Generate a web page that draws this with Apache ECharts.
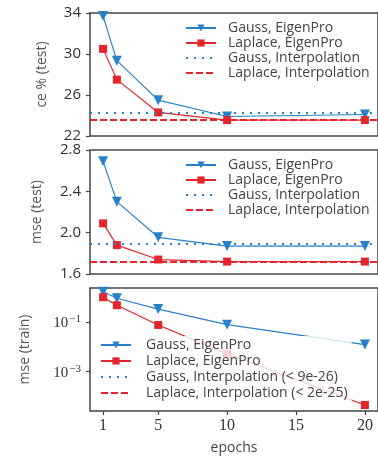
<!DOCTYPE html>
<html>
<head>
<meta charset="utf-8">
<script src="https://cdn.jsdelivr.net/npm/echarts@6/dist/echarts.min.js"></script>
<style>
  html, body { margin: 0; padding: 0; background: #fff; }
  #chart { width: 378px; height: 456px; }
</style>
</head>
<body>
<div id="chart"></div>
<script>
// epochs (shared x)
const epochs = [1, 2, 5, 10, 20]
const epochTicks = [1, 5, 10, 15, 20]

// ce % (test)
const ceGaussEP = [33.7, 29.35, 25.5, 23.9, 24.1]
const ceLaplaceEP = [30.5, 27.5, 24.3, 23.55, 23.55]
const ceGaussInterp = 24.3
const ceLaplaceInterp = 23.55
const ceTicks = [22, 26, 30, 34]

// mse (test)
const mseGaussEP = [2.69, 2.30, 1.955, 1.87, 1.87]
const mseLaplaceEP = [2.09, 1.88, 1.74, 1.72, 1.72]
const mseGaussInterp = 1.89
const mseLaplaceInterp = 1.72
const mseTicks = [1.6, 2.0, 2.4, 2.8]

// mse (train), log scale
const trainGaussEP = [1.78, 0.96, 0.35, 0.081, 0.0126]
const trainLaplaceEP = [1.06, 0.5, 0.079, 0.0053, 0.000044]
const trainTicks = [0.1, 0.001]
const trainTickExp = ['−1', '−3']

const BLUE = '#2a80c8'
const RED = '#e3262b'
const AXIS = '#444'
const SANS = 'Open Sans'
const SERIF = 'Liberation Serif'

const names = {
  gEP: 'Gauss, EigenPro',
  lEP: 'Laplace, EigenPro',
  gIn: 'Gauss, Interpolation',
  lIn: 'Laplace, Interpolation',
  gIn3: 'Gauss, Interpolation (< 9e-26)',
  lIn3: 'Laplace, Interpolation (< 2e-25)'
}

const chart = echarts.init(document.getElementById('chart'))

const pairs = arr => epochs.map((e, i) => [e, arr[i]])

const grids = [
  { left: 90, right: -8, top: 13, height: 123 },
  { left: 90, right: -8, top: 150, height: 124 },
  { left: 90, right: -8, top: 288, height: 124 }
].map(g => ({ ...g, show: true, borderColor: AXIS, borderWidth: 1.5, backgroundColor: 'transparent' }))

const xAxisBase = {
  type: 'value',
  min: 0.05,
  max: 20.95,
  axisLine: { show: false },
  splitLine: { show: false }
}

const xAxes = [
  { ...xAxisBase, gridIndex: 0, axisTick: { show: false }, axisLabel: { show: false } },
  { ...xAxisBase, gridIndex: 1, axisTick: { show: false }, axisLabel: { show: false } },
  {
    ...xAxisBase,
    gridIndex: 2,
    name: 'epochs',
    nameLocation: 'middle',
    nameGap: 30,
    nameTextStyle: { fontFamily: SANS, fontSize: 14, color: '#444' },
    axisTick: { show: true, length: 4, customValues: epochTicks, lineStyle: { color: AXIS, width: 1.2 } },
    axisLabel: { customValues: epochTicks, margin: 7, fontFamily: SERIF, fontSize: 16, color: '#333' }
  }
]

const yLinear = (idx, ticks, name, gap, fmt) => ({
  type: 'value',
  gridIndex: idx,
  min: ticks[0],
  max: ticks[ticks.length - 1],
  name: name,
  nameLocation: 'middle',
  nameRotate: 90,
  nameGap: gap,
  nameTextStyle: { fontFamily: SANS, fontSize: 14, color: '#555' },
  axisLine: { show: false },
  splitLine: { show: false },
  axisTick: { show: true, length: 4, customValues: ticks, lineStyle: { color: AXIS, width: 1.2 } },
  axisLabel: { customValues: ticks, margin: 9, fontFamily: SANS, fontSize: 15, color: '#333', formatter: fmt }
})

const yAxes = [
  yLinear(0, ceTicks, 'ce % (test)', 41, v => String(v)),
  yLinear(1, mseTicks, 'mse (test)', 46, v => v.toFixed(1)),
  {
    type: 'log',
    gridIndex: 2,
    logBase: 10,
    min: Math.pow(10, -4.6),
    max: Math.pow(10, 0.4),
    name: 'mse (train)',
    nameLocation: 'middle',
    nameRotate: 90,
    nameGap: 58,
    nameTextStyle: { fontFamily: SANS, fontSize: 14, color: '#555' },
    axisLine: { show: false },
    splitLine: { show: false },
    axisTick: { show: true, length: 4, customValues: trainTicks, lineStyle: { color: AXIS, width: 1.2 } },
    axisLabel: {
      customValues: trainTicks,
      margin: 9,
      fontFamily: SERIF,
      fontSize: 15,
      color: '#333',
      formatter: v => {
        const i = trainTicks.findIndex(t => Math.abs(Math.log10(t) - Math.log10(v)) < 0.01)
        return i >= 0 ? '{b|10}{s|' + trainTickExp[i] + '}' : ''
      },
      rich: {
        b: { fontFamily: SERIF, fontSize: 15, color: '#333', verticalAlign: 'bottom' },
        s: { fontFamily: SERIF, fontSize: 11, color: '#333', verticalAlign: 'top', padding: [0, 0, 6, 1] }
      }
    }
  }
]

const epSeries = (idx, name, data, color, symbol) => ({
  name: name,
  type: 'line',
  xAxisIndex: idx,
  yAxisIndex: idx,
  data: pairs(data),
  symbol: symbol,
  symbolRotate: symbol === 'triangle' ? 180 : 0,
  symbolSize: symbol === 'triangle' ? 10 : 8,
  showSymbol: true,
  lineStyle: { color: color, width: 1.2 },
  itemStyle: { color: color },
  z: 3
})

const interpSeries = (idx, name, value, color, dash) => ({
  name: name,
  type: 'line',
  xAxisIndex: idx,
  yAxisIndex: idx,
  data: [],
  symbol: 'none',
  lineStyle: { color: color, width: 2, type: dash },
  itemStyle: { color: 'rgba(0,0,0,0)' },
  markLine: value == null ? undefined : {
    silent: true,
    symbol: ['none', 'none'],
    label: { show: false },
    lineStyle: { color: color, width: 2, type: dash },
    data: [{ yAxis: value }]
  },
  z: 4
})

const DOT = [2, 6]
const DASH = [7, 3]

const series = [
  epSeries(0, names.gEP, ceGaussEP, BLUE, 'triangle'),
  epSeries(0, names.lEP, ceLaplaceEP, RED, 'rect'),
  interpSeries(0, names.gIn, ceGaussInterp, BLUE, DOT),
  interpSeries(0, names.lIn, ceLaplaceInterp, RED, DASH),
  epSeries(1, names.gEP, mseGaussEP, BLUE, 'triangle'),
  epSeries(1, names.lEP, mseLaplaceEP, RED, 'rect'),
  interpSeries(1, names.gIn, mseGaussInterp, BLUE, DOT),
  interpSeries(1, names.lIn, mseLaplaceInterp, RED, DASH),
  epSeries(2, names.gEP, trainGaussEP, BLUE, 'triangle'),
  epSeries(2, names.lEP, trainLaplaceEP, RED, 'rect'),
  interpSeries(2, names.gIn3, null, BLUE, DOT),
  interpSeries(2, names.lIn3, null, RED, DASH)
]

const legendBase = {
  orient: 'vertical',
  selectedMode: false,
  itemWidth: 30,
  itemHeight: 9,
  itemGap: 1,
  padding: 0,
  textStyle: { fontFamily: SANS, fontSize: 14, color: '#444', padding: [0, 0, 0, 7] }
}

const legends = [
  { ...legendBase, left: 185, top: 21, data: [names.gEP, names.lEP, names.gIn, names.lIn] },
  { ...legendBase, left: 185, top: 158, data: [names.gEP, names.lEP, names.gIn, names.lIn] },
  {
    ...legendBase,
    left: 96,
    top: 336,
    itemGap: 2,
    padding: [2, 4, 2, 4],
    backgroundColor: 'rgba(255,255,255,0.8)',
    textStyle: { ...legendBase.textStyle, fontSize: 14, padding: [0, 0, 0, 10] },
    data: [names.gEP, names.lEP, names.gIn3, names.lIn3]
  }
]

chart.setOption({
  animation: false,
  grid: grids,
  xAxis: xAxes,
  yAxis: yAxes,
  legend: legends,
  series: series
})
</script>
</body>
</html>
